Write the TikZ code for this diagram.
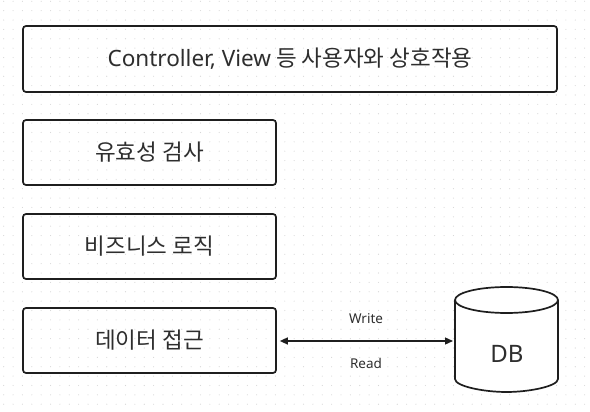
\documentclass[tikz,border=0pt]{standalone}
\usepackage{fontspec}
\setmainfont{Noto Sans CJK KR}
\newfontfamily\latinf{Noto Sans}
\usetikzlibrary{arrows.meta,shapes.geometric}
\definecolor{ink}{HTML}{1E1E1E}
\definecolor{txt}{HTML}{2E2E2E}
\definecolor{dotc}{HTML}{D6D6D6}
\begin{document}
\begin{tikzpicture}[x=1pt,y=-1pt,
  box/.style={draw=ink, line width=1.7pt, rounded corners=3pt, text=txt, inner sep=0pt, font=\fontsize{22.5}{26}\selectfont},
  lbl/.style={text=txt, inner sep=0pt, font=\latinf\fontsize{13.5}{15}\selectfont},
  dbline/.style={draw=ink, line width=1.7pt, line join=round}]
\useasboundingbox (0,0) rectangle (590,412);
\fill[white] (0,0) rectangle (590,412);
% dot grid
\foreach \i in {0,...,62} {
  \foreach \j in {0,...,43} {
    \fill[dotc] ({3.7+9.37*\i},{1.3+9.37*\j}) circle (0.55pt);
  }
}
\node[box, minimum width=534pt, minimum height=66pt] (ctrl) at (290,59) {{\latinf Controller, View} 등 사용자와 상호작용};
\node[box, minimum width=253pt, minimum height=65pt] (valid) at (149.5,152.5) {유효성 검사};
\node[box, minimum width=253pt, minimum height=65pt] (logic) at (149.5,246.5) {비즈니스 로직};
\node[box, minimum width=253pt, minimum height=65pt] (data) at (149.5,340.5) {데이터 접근};
% DB cylinder body
\path[dbline, fill=white]
  (455,300) -- (455,379) .. controls (455,386.18) and (483.44,392) .. (506.5,392)
            .. controls (529.56,392) and (558,386.18) .. (558,379)
  -- (558,300);
% DB cylinder top
\node[dbline, fill=white, ellipse, inner sep=0pt, minimum width=103pt, minimum height=26pt] (dbtop) at (506.5,300) {};
\coordinate (dbw) at (455,341);
\node[text=txt, inner sep=0pt, font=\latinf\fontsize{24}{28}\selectfont] (db) at (507,354) {DB};
\draw[ink, line width=1.3pt, {Triangle[length=8pt,width=7pt]}-{Triangle[length=8pt,width=7pt]}] ([xshift=3pt]data.east |- dbw) -- ([xshift=-2pt]dbw);
\node[lbl] (w) at (366,319) {Write};
\node[lbl] (r) at (366,363) {Read};
\end{tikzpicture}
\end{document}
